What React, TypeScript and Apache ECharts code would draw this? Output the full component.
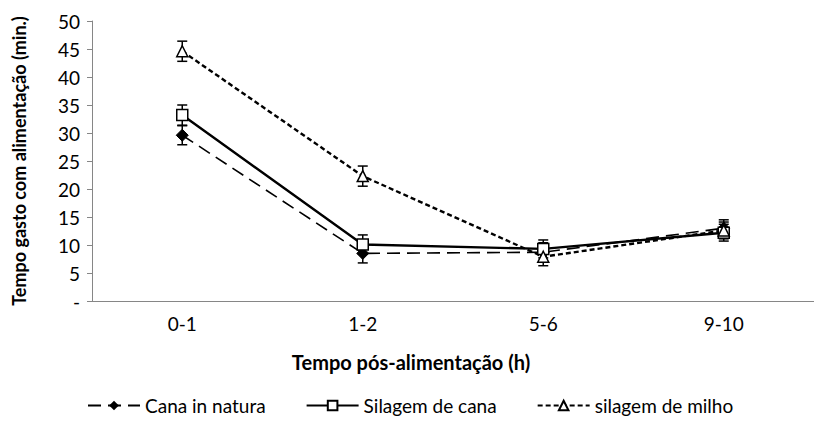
import React, { useEffect, useRef } from "react";
import * as echarts from "echarts";

const categories = ["0-1", "1-2", "5-6", "9-10"];
const seriesNames = ["Cana in natura", "Silagem de cana", "silagem de milho"];
const canaInNatura = [29.6, 8.5, 8.7, 13.0];
const silagemDeCana = [33.2, 10.1, 9.3, 12.2];
const silagemDeMilho = [44.6, 22.3, 7.9, 12.6];
const errCanaInNatura = [1.7, 1.7, 1.7, 1.5];
const errSilagemDeCana = [1.8, 1.7, 1.6, 1.5];
const errSilagemDeMilho = [1.8, 1.8, 1.6, 1.5];
const yTicks = [0, 5, 10, 15, 20, 25, 30, 35, 40, 45, 50];

const FONT = "Lato";

export default function App() {
  const ref = useRef<HTMLDivElement>(null);
  useEffect(() => {
    document.body.style.margin = "0";
    const chart = echarts.init(ref.current!, null, { renderer: "svg" });

    const errData = (vals: number[], errs: number[]) =>
      vals.map((v, i) => [i, v - errs[i], v + errs[i]]);

    const errSeries = (vals: number[], errs: number[]) => ({
      type: "custom",
      silent: true,
      z: 3,
      renderItem: (params: any, api: any) => {
        const x = api.value(0);
        const lo = api.coord([x, api.value(1)]);
        const hi = api.coord([x, api.value(2)]);
        const hw = 5;
        const style = { stroke: "#000", lineWidth: 1.5 };
        return {
          type: "group",
          children: [
            { type: "line", shape: { x1: lo[0], y1: lo[1], x2: hi[0], y2: hi[1] }, style },
            { type: "line", shape: { x1: lo[0] - hw, y1: lo[1], x2: lo[0] + hw, y2: lo[1] }, style },
            { type: "line", shape: { x1: hi[0] - hw, y1: hi[1], x2: hi[0] + hw, y2: hi[1] }, style },
          ],
        };
      },
      encode: { x: 0, y: [1, 2] },
      data: errData(vals, errs),
    });

    const option: any = {
      animation: false,
      textStyle: { fontFamily: FONT, color: "#000" },
      grid: { left: 92, top: 21, width: 732, height: 280, containLabel: false },
      xAxis: {
        type: "category",
        data: categories,
        boundaryGap: true,
        axisLine: { lineStyle: { color: "#868686", width: 1 } },
        axisTick: { alignWithLabel: true, length: 5, lineStyle: { color: "#868686" } },
        axisLabel: { fontFamily: FONT, fontSize: 19, color: "#000", margin: 13 },
        splitLine: { show: false },
      },
      yAxis: {
        type: "value",
        min: 0,
        max: 50,
        interval: 5,
        axisLine: { show: true, lineStyle: { color: "#868686", width: 1 } },
        axisTick: { show: true, length: 5, lineStyle: { color: "#868686" } },
        axisLabel: {
          fontFamily: FONT,
          fontSize: 19,
          color: "#000",
          margin: 12,
          formatter: (v: number) => (yTicks.includes(v) ? (v === 0 ? "-" : String(v)) : ""),
        },
        splitLine: { show: false },
        name: "Tempo gasto com alimentação (min.)",
        nameLocation: "middle",
        nameGap: 64,
        nameTextStyle: { fontFamily: FONT, fontSize: 18, fontWeight: "bold", color: "#000" },
      },
      legend: {
        data: seriesNames,
        left: 82,
        top: 391,
        itemWidth: 52,
        itemHeight: 12,
        itemGap: 40,
        textStyle: { fontFamily: FONT, fontSize: 19, color: "#000" },
      },
      graphic: [
        {
          type: "text",
          x: 411,
          y: 362,
          style: {
            text: "Tempo pós-alimentação (h)",
            font: `bold 20px ${FONT}`,
            fill: "#000",
            align: "center",
            verticalAlign: "middle",
          },
        },
      ],
      series: [
        {
          name: seriesNames[0],
          type: "line",
          data: canaInNatura,
          symbol: "diamond",
          symbolSize: 12,
          itemStyle: { color: "#000", borderColor: "#000" },
          lineStyle: { color: "#000", width: 1.6, type: [13, 7] },
          z: 4,
        },
        {
          name: seriesNames[1],
          type: "line",
          data: silagemDeCana,
          symbol: "rect",
          symbolSize: 11,
          itemStyle: { color: "#fff", borderColor: "#000", borderWidth: 1.5 },
          lineStyle: { color: "#000", width: 2.4, type: "solid" },
          z: 4,
        },
        {
          name: seriesNames[2],
          type: "line",
          data: silagemDeMilho,
          symbol: "triangle",
          symbolSize: 11,
          itemStyle: { color: "#fff", borderColor: "#000", borderWidth: 1.5 },
          lineStyle: { color: "#000", width: 2.4, type: [5, 3] },
          z: 4,
        },
        errSeries(canaInNatura, errCanaInNatura),
        errSeries(silagemDeCana, errSilagemDeCana),
        errSeries(silagemDeMilho, errSilagemDeMilho),
      ],
    };
    chart.setOption(option);
    return () => chart.dispose();
  }, []);
  return <div ref={ref} style={{ width: 814, height: 424 }} />;
}
